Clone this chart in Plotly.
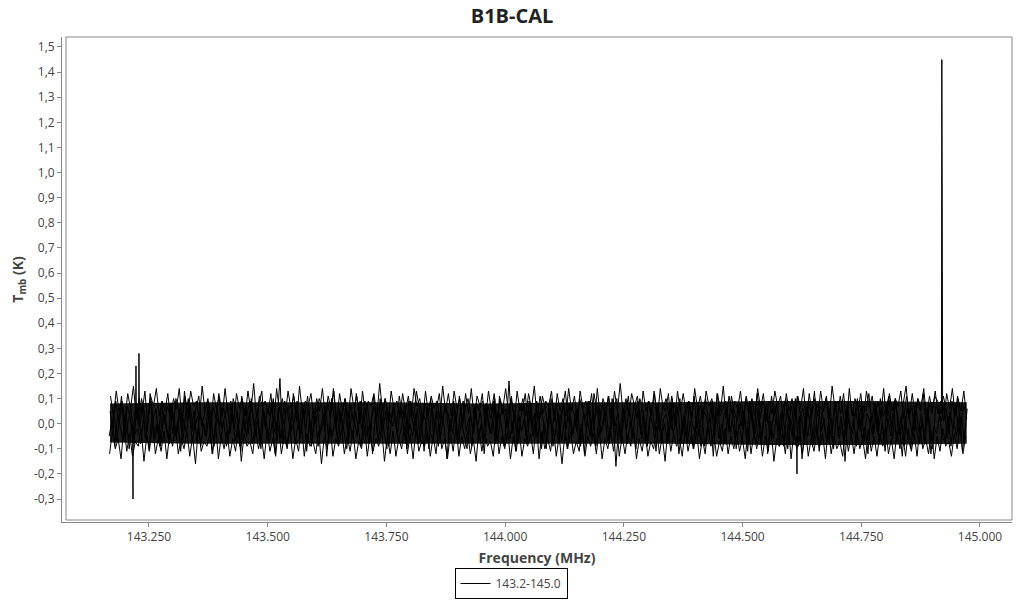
import numpy as np
import plotly.graph_objects as go

# ---- data (Tmb in K), overlapping scans over the 143.2-145.0 MHz band ----
scan_a_start, scan_a_stop = 143.168, 144.971
scan_b_start, scan_b_stop = 143.170, 144.973
scan_c_start, scan_c_stop = 143.166, 144.969
scan_d_start, scan_d_stop = 143.169, 144.972
scan_e_start, scan_e_stop = 143.167, 144.970

scan_a = [
    .05,-.02,.09,.01,.11,-.04,.07,.03,-.06,.08,-.01,.10,.04,-.03,.12,.02,.06,-.05,.09,.00,
    .07,.03,-.04,.10,.05,-.02,.13,.01,.08,-.03,.06,.11,-.01,.04,.09,-.05,.07,.02,.12,-.02,
    .03,.08,-.04,.10,.06,.00,.11,-.03,.05,.09,.02,-.05,.08,.13,-.01,.06,.03,.10,-.04,.07,
    .01,.09,.04,-.03,.12,.05,-.02,.08,.03,.11,-.04,.06,.00,.10,.07,-.03,.09,.02,.14,-.01,
    .06,.03,.10,-.05,.08,.01,.12,.04,-.02,.09,.06,-.04,.11,.02,.07,-.03,.10,.05,.00,.08,
    -.02,.11,.04,.07,-.04,.09,.02,.13,.05,-.01,.08,.03,.10,-.05,.06,.12,.00,.07,.04,-.03,
    .09,.02,.11,-.02,.06,.10,.03,-.04,.08,.05,.12,-.01,.07,.02,.09,-.05,.11,.04,.06,-.02,
    .10,.03,-.03,.08,.05,.12,.00,.07,-.04,.09,.02,.11,.06,-.02,.10,.04,.08,-.05,.06,.13,
    .01,.07,.04,-.03,.10,.06,.02,.09,-.04,.12,.05,.00,.08,.03,.11,-.02,.07,.10,-.05,.06,
    .04,.11,-.01,.08,.02,.10,.06,-.04,.09,.03,.13,.01,-.03,.07,.05,.12,-.02,.08,.04,.10,
    -.04,.06,.09,.02,.11,-.02,.07,.04,.10,.00,.08,-.05,.12,.03,.06,.09,-.03,.11,.05,.01,
    .08,-.02,.10,.04,.07,-.04,.12,.02,.09,.05,-.01,.11,.03,.08,-.05,.06,.10,.01,.07,-.03,
    .11,.04,.06,-.02,.09,.03,.13,-.04,.07,.05,.10,.00,-.06,.08,.02,.11,.04,-.03,.09,.06,
    .02,.10,-.03,.07,.05,.12,.01,.08,-.04,.10,.03,.06,.11,-.02,.09,.04,-.05,.08,.15,.02,
    .07,-.03,.10,.05,.12,-.02,.08,.04,.11,.09,.04,.11,.06,-.04,.09,.03,.11,-.01,.07,.05,
]

scan_b = [
    -.03,.05,-.07,.02,.08,-.05,.01,.06,-.08,.07,-.02,.07,-.06,.03,.09,-.04,.00,-.09,.05,.02,
    -.06,.08,.01,-.04,.06,-.08,.03,.10,-.02,.05,-.07,.04,.00,-.05,.09,.02,-.09,.06,-.01,.07,
    .03,-.06,.08,-.02,.05,-.09,.01,.07,-.04,.10,-.01,.04,-.07,.06,.02,-.05,.08,-.03,.00,.18,
    -.08,.04,.07,-.03,.01,.09,-.06,.05,-.02,.08,-.09,.03,.06,-.04,.00,.07,-.07,.10,.02,-.05,
    .05,-.03,.08,-.07,.04,.01,-.05,.09,-.01,.06,-.08,.03,.07,-.04,.10,-.02,.05,-.09,.02,.06,
    -.05,.07,.00,-.08,.09,.03,-.03,.06,-.07,.04,.01,-.10,.08,-.02,.05,-.06,.03,.07,-.04,.01,
    .06,-.07,.04,.09,-.03,.02,-.09,.07,-.01,.05,-.06,.08,.00,-.04,.10,-.08,.03,.06,-.02,.17,
    -.04,.05,-.08,.02,.07,-.05,.09,-.01,.04,-.07,.06,.01,-.10,.08,-.03,.05,-.06,.03,.07,-.02,
    .08,-.05,.01,.06,-.09,.04,-.02,.09,-.06,.03,.07,-.04,.00,.05,-.08,.10,-.01,.04,-.07,.06,
    -.02,.07,-.06,.03,.09,-.04,.05,-.09,.01,.06,-.03,.08,-.07,.02,.04,-.05,.10,-.01,.06,-.08,
    .03,-.06,.08,.00,-.04,.07,-.09,.05,.02,-.05,.09,-.02,.06,-.08,.03,.07,-.03,.01,-.06,.08,
    -.01,.05,-.07,.09,.02,-.04,.06,-.08,.03,.08,-.05,.00,.07,-.03,.04,-.09,.06,.01,-.05,.10,
    -.09,.04,-.06,.07,.01,-.09,.05,.08,-.03,.02,-.07,.06,-.01,.09,-.05,.03,-.08,.07,.00,-.04,
    .06,-.02,.08,-.07,.04,.01,-.05,.09,-.03,.05,-.08,.07,.02,-.06,.10,-.04,.03,-.09,.06,.01,
    -.05,.08,-.03,.04,-.07,.06,.00,-.10,.07,.05,.01,.08,-.06,.05,-.02,.08,-.04,.03,-.07,.06,
]

scan_c = [
    -.05,.01,-.09,.04,-.02,-.07,.03,-.10,.00,-.04,-.02,-.08,.02,-.03,-.11,.05,-.06,.00,-.09,.03,
    -.02,-.08,.04,-.05,.01,-.11,.02,-.04,.06,-.07,-.01,.03,-.09,.00,-.05,.05,-.12,-.02,.02,-.06,
    .01,-.09,-.03,.04,-.07,.00,-.11,.03,-.05,.05,-.08,-.01,.02,-.10,.04,-.04,-.07,.01,-.12,.03,
    -.06,.02,-.09,-.02,.05,-.08,.00,-.04,.06,-.11,.02,-.06,.03,-.09,-.01,.04,-.13,.00,-.05,.03,
    -.08,.04,-.03,-.10,.01,-.06,.05,-.02,-.09,.03,-.05,.00,-.12,.04,-.07,.02,-.03,-.10,.05,-.01,
    .03,-.07,-.02,.05,-.10,.00,-.05,.04,-.08,.02,-.11,.06,-.03,-.06,.01,-.09,.04,-.01,-.14,.02,
    -.04,.05,-.08,.01,-.05,-.10,.03,-.02,.06,-.07,.00,-.12,.04,-.04,.02,-.08,.05,-.01,-.09,.03,
    -.06,.01,-.11,.04,-.03,.02,-.08,.05,-.05,-.01,.03,-.10,.00,-.06,.06,-.09,-.02,.04,-.07,.01,
    -.10,.03,-.04,.05,-.08,.00,-.12,.02,-.05,.04,-.09,.01,-.03,.06,-.07,-.02,.03,-.17,.00,-.05,
    .04,-.08,.01,-.03,-.10,.05,-.06,.02,-.09,.03,-.01,-.11,.04,-.05,.00,-.08,.06,-.04,.02,-.12,
    -.02,.04,-.07,.01,-.10,.03,-.05,.05,-.09,-.01,.02,-.13,.04,-.06,.00,-.08,.03,-.04,.06,-.10,
    .00,-.07,.03,-.11,.05,-.03,-.08,.02,-.05,.04,-.12,.01,-.06,.03,-.09,.05,-.02,-.10,.02,-.04,
    -.09,.03,-.14,.01,-.05,.04,-.08,.00,-.11,.05,-.03,-.07,.02,-.10,.04,-.06,.01,-.15,.03,-.04,
    .02,-.09,.04,-.06,-.01,-.12,.03,-.04,.05,-.08,.00,-.11,.02,-.05,.06,-.07,-.02,-.13,.03,-.06,
    -.10,.04,-.03,-.08,.02,-.06,.05,-.12,-.01,-.04,.03,-.06,-.07,.03,-.09,.01,-.05,.04,-.11,-.02,
]

scan_d = [
    .11,.03,.13,.05,.09,.01,.12,.06,.15,.02,.10,.04,.13,.00,.11,.07,.14,.03,.09,.05,
    .12,.02,.10,.06,.14,.01,.11,.04,.13,.07,.09,.02,.15,.05,.10,.00,.12,.06,.11,.03,
    .14,.04,.09,.01,.12,.06,.10,.03,.13,.05,.16,.02,.11,.07,.09,.04,.12,.00,.14,.05,
    .10,.03,.13,.06,.11,.01,.15,.04,.09,.07,.12,.02,.10,.05,.14,.03,.11,.06,.13,.01,
    .12,.05,.10,.02,.14,.06,.11,.00,.13,.04,.09,.07,.12,.03,.16,.05,.10,.01,.13,.06,
    .09,.02,.12,.05,.11,.03,.14,.07,.10,.01,.13,.04,.11,.06,.09,.02,.15,.05,.12,.03,
    .13,.06,.10,.01,.12,.04,.14,.02,.11,.07,.09,.03,.13,.05,.12,.00,.10,.06,.14,.04,
    .11,.01,.13,.05,.10,.03,.12,.06,.15,.02,.11,.04,.09,.07,.13,.01,.12,.05,.10,.03,
    .14,.05,.11,.02,.13,.06,.09,.04,.12,.00,.14,.03,.10,.06,.11,.02,.13,.05,.16,.04,
    .10,.03,.12,.07,.11,.01,.13,.05,.09,.04,.12,.02,.14,.06,.10,.03,.11,.00,.13,.05,
    .12,.04,.09,.02,.14,.06,.11,.03,.13,.07,.10,.01,.12,.05,.15,.02,.11,.04,.09,.06,
    .13,.02,.11,.05,.10,.03,.14,.06,.12,.01,.09,.04,.13,.07,.11,.02,.12,.05,.10,.03,
    .11,.06,.14,.01,.12,.04,.10,.03,.13,.05,.11,.02,.15,.06,.09,.04,.12,.00,.14,.03,
    .10,.05,.12,.02,.13,.06,.11,.03,.09,.04,.14,.01,.12,.05,.10,.07,.13,.02,.11,.04,
    .12,.03,.10,.06,.14,.02,.11,.05,.13,.04,.09,.01,.12,.06,.14,.03,.10,.05,.13,.02,
]

scan_e = [
    -.12,-.03,-.10,-.06,-.14,-.01,-.11,-.04,-.13,-.07,-.09,-.02,-.15,-.05,-.10,.00,-.12,-.06,-.11,-.03,
    -.14,-.04,-.09,-.01,-.12,-.06,-.10,-.03,-.13,-.05,-.16,-.02,-.11,-.07,-.09,-.04,-.12,.00,-.14,-.05,
    -.10,-.03,-.13,-.06,-.11,-.01,-.15,-.04,-.09,-.07,-.12,-.02,-.10,-.05,-.14,-.03,-.11,-.06,-.13,-.01,
    -.12,-.05,-.10,-.02,-.14,-.06,-.11,.00,-.13,-.04,-.09,-.07,-.12,-.03,-.16,-.05,-.10,-.01,-.13,-.06,
    -.09,-.02,-.12,-.05,-.11,-.03,-.14,-.07,-.10,-.01,-.13,-.04,-.11,-.06,-.09,-.02,-.15,-.05,-.12,-.03,
    -.13,-.06,-.10,-.01,-.12,-.04,-.14,-.02,-.11,-.07,-.09,-.03,-.13,-.05,-.12,.00,-.10,-.06,-.14,-.04,
    -.11,-.01,-.13,-.05,-.10,-.03,-.12,-.06,-.15,-.02,-.11,-.04,-.09,-.07,-.13,-.01,-.12,-.05,-.10,-.03,
    -.14,-.05,-.11,-.02,-.13,-.06,-.09,-.04,-.12,.00,-.14,-.03,-.10,-.06,-.11,-.02,-.13,-.05,-.16,-.04,
    -.10,-.03,-.12,-.07,-.11,-.01,-.13,-.05,-.09,-.04,-.12,-.02,-.14,-.06,-.10,-.03,-.11,.00,-.13,-.05,
    -.12,-.04,-.09,-.02,-.14,-.06,-.11,-.03,-.13,-.07,-.10,-.01,-.12,-.05,-.15,-.02,-.11,-.04,-.09,-.06,
    -.13,-.02,-.11,-.05,-.10,-.03,-.14,-.06,-.12,-.01,-.09,-.04,-.13,-.07,-.11,-.02,-.12,-.05,-.10,-.03,
    -.11,-.06,-.14,-.01,-.12,-.04,-.10,-.03,-.13,-.05,-.11,-.02,-.15,-.06,-.09,-.04,-.12,.00,-.14,-.03,
    -.10,-.05,-.12,-.02,-.13,-.06,-.11,-.03,-.09,-.04,-.14,-.01,-.12,-.05,-.10,-.07,-.13,-.02,-.11,-.04,
    -.12,-.03,-.10,-.06,-.14,-.02,-.11,-.05,-.13,-.04,-.09,-.01,-.12,-.06,-.14,-.03,-.10,-.05,-.13,-.02,
    -.11,-.04,-.13,-.01,-.10,-.06,-.12,-.03,-.14,-.05,-.11,-.02,-.09,-.07,-.13,-.04,-.10,-.01,-.12,-.05,
]

# narrow features (single-channel spikes and the emission line near 144.92 MHz)
feature_freq = [143.2155, 143.2163, 143.2170, None,
                143.2220, 143.2226, 143.2232, None,
                143.2282, 143.2289, 143.2296, None,
                144.6138, 144.6145, 144.6152, None,
                144.9188, 144.9196, 144.9199, 144.9202, 144.9205, 144.9213]
feature_tmb = [-0.02, -0.30, -0.03, None,
               0.05, 0.23, 0.04, None,
               0.03, 0.28, 0.05, None,
               -0.05, -0.20, -0.06, None,
               0.04, 1.45, 0.30, 1.37, 0.90, 0.05]

# dense core of the overlapping noise band (edges)
band_freq = [143.168, 143.35, 143.55, 143.75, 143.95, 144.15, 144.35, 144.55, 144.75, 144.972]
band_upper = [0.080, 0.085, 0.085, 0.085, 0.080, 0.085, 0.085, 0.090, 0.090, 0.085]
band_lower = [-0.075, -0.080, -0.080, -0.080, -0.080, -0.080, -0.080, -0.085, -0.085, -0.080]

series_name = "143.2-145.0"
y_tickvals = [-0.3, -0.2, -0.1, 0.0, 0.1, 0.2, 0.3, 0.4, 0.5, 0.6, 0.7, 0.8,
              0.9, 1.0, 1.1, 1.2, 1.3, 1.4, 1.5]
y_ticktext = ["-0,3", "-0,2", "-0,1", "0,0", "0,1", "0,2", "0,3", "0,4", "0,5", "0,6",
              "0,7", "0,8", "0,9", "1,0", "1,1", "1,2", "1,3", "1,4", "1,5"]
x_tickvals = [143.25, 143.5, 143.75, 144.0, 144.25, 144.5, 144.75, 145.0]
x_ticktext = ["143.250", "143.500", "143.750", "144.000", "144.250", "144.500",
              "144.750", "145.000"]

# ---- build one trace with gaps between scans ----
xs, ys = [], []
for (f0, f1, vals) in [(scan_a_start, scan_a_stop, scan_a),
                       (scan_b_start, scan_b_stop, scan_b),
                       (scan_c_start, scan_c_stop, scan_c),
                       (scan_d_start, scan_d_stop, scan_d),
                       (scan_e_start, scan_e_stop, scan_e)]:
    xs.extend(np.linspace(f0, f1, len(vals)).tolist())
    ys.extend(vals)
    xs.append(None)
    ys.append(None)
xs.extend(feature_freq)
ys.extend(feature_tmb)

FONT = "Open Sans"
fig = go.Figure()
fig.add_trace(go.Scatter(x=band_freq, y=band_lower, mode="lines", line=dict(width=0),
                         showlegend=False, hoverinfo="skip"))
fig.add_trace(go.Scatter(x=band_freq, y=band_upper, mode="lines", line=dict(width=0),
                         fill="tonexty", fillcolor="#1c1c1c",
                         showlegend=False, hoverinfo="skip"))
fig.add_trace(go.Scatter(
    x=xs, y=ys, mode="lines", name=series_name,
    line=dict(color="black", width=1), connectgaps=False, showlegend=True,
))

fig.update_layout(
    width=1024, height=600,
    margin=dict(l=62, r=12, t=37, b=78, autoexpand=False),
    paper_bgcolor="white", plot_bgcolor="white",
    font=dict(family=FONT, size=12, color="#444"),
    title=dict(text="<b>B1B-CAL</b>", x=0.5, xref="container", xanchor="center",
               y=1 - 16 / 600, yref="container", yanchor="middle",
               font=dict(family=FONT, size=20, color="#222")),
    showlegend=True,
    legend=dict(orientation="h", x=(511 - 62) / 950, xanchor="center",
                y=-(599 - 522) / 485, yanchor="bottom",
                bordercolor="black", borderwidth=1, bgcolor="white",
                font=dict(family=FONT, size=12, color="#444"),
                itemwidth=30, tracegroupgap=0),
    shapes=[dict(type="rect", xref="paper", yref="paper",
                 x0=4 / 950, y0=2 / 485, x1=1, y1=1,
                 line=dict(color="#888", width=1), layer="below")],
)

fig.update_xaxes(
    range=[143.0668, 145.0674], tickmode="array",
    tickvals=x_tickvals, ticktext=x_ticktext,
    showgrid=False, zeroline=False, showline=True, linecolor="#888", linewidth=1,
    ticks="outside", ticklen=4, tickcolor="#888",
    tickfont=dict(family=FONT, size=12, color="#444"),
    title=dict(text="<b>Frequency (MHz)</b>", font=dict(family=FONT, size=14, color="#444"),
               standoff=8),
)
fig.update_yaxes(
    range=[-0.3916, 1.5398], tickmode="array",
    tickvals=y_tickvals, ticktext=y_ticktext,
    showgrid=False, zeroline=False, showline=True, linecolor="#888", linewidth=1,
    ticks="outside", ticklen=4, tickcolor="#888",
    tickfont=dict(family=FONT, size=12, color="#444"),
    title=dict(text="<b>T<sub>mb</sub> (K)</b>", font=dict(family=FONT, size=14, color="#444"),
               standoff=6),
)

fig.write_html("out.html", config={"displayModeBar": False},
               post_script="document.body.style.margin='0';")
